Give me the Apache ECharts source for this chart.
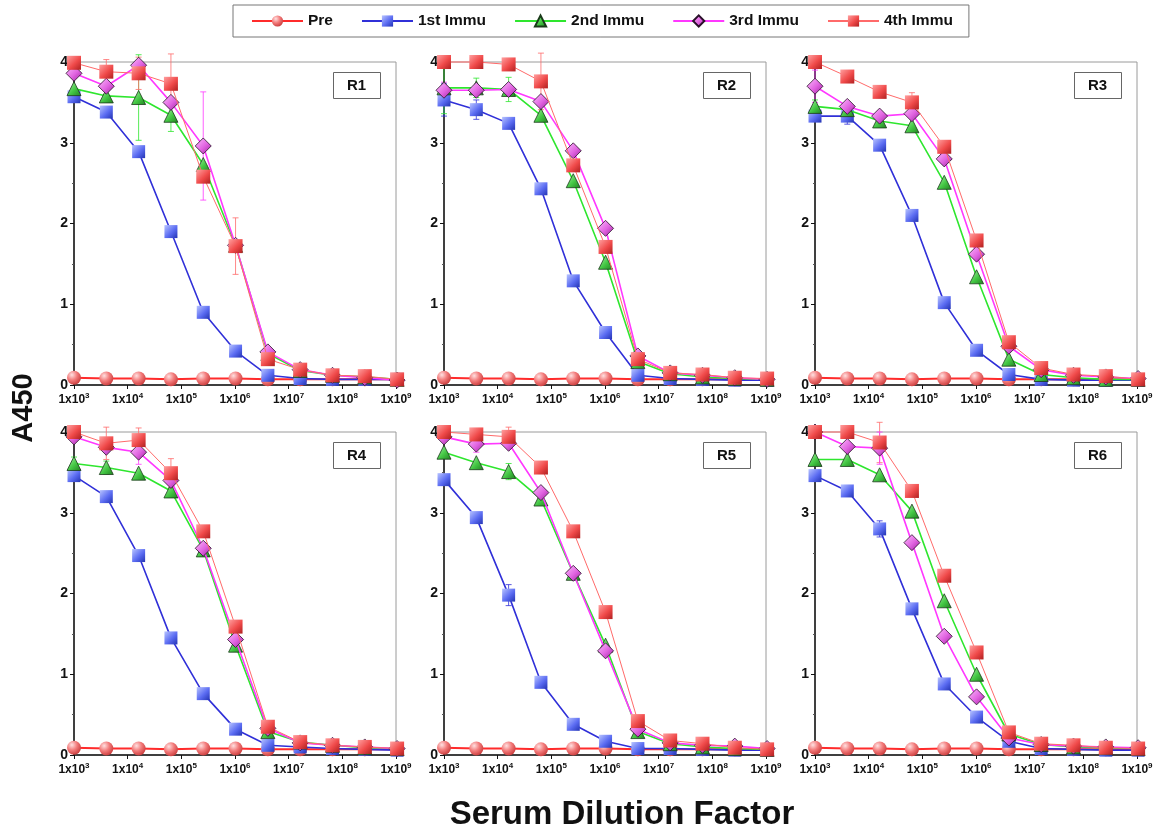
<!DOCTYPE html>
<html>
<head>
<meta charset="utf-8">
<title>A450 vs Serum Dilution Factor</title>
<script src="https://cdn.jsdelivr.net/npm/echarts@6/dist/echarts.min.js"></script>
<style>
  html, body { margin: 0; padding: 0; background: #fff; }
  #main { width: 1165px; height: 835px; }
</style>
</head>
<body>
<div id="main"></div>
<script>
// dilution steps (4-fold, starting at 1:1000)
var dilutions = [1e3, 4e3, 1.6e4, 6.4e4, 2.56e5, 1.024e6, 4.096e6, 1.6384e7, 6.5536e7, 2.62144e8, 1.048576e9];
var seriesNames = ['Pre', '1st Immu', '2nd Immu', '3rd Immu', '4th Immu'];
var panelNames = ['R1', 'R2', 'R3', 'R4', 'R5', 'R6'];
var yTicks = [0, 1, 2, 3, 4];

// R1
var r1Pre    = [0.09, 0.08, 0.08, 0.07, 0.08, 0.08, 0.07, 0.07, 0.07, 0.07, 0.07];
var r1First  = [3.57, 3.38, 2.89, 1.90, 0.90, 0.42, 0.12, 0.08, 0.07, 0.07, 0.07];
var r1Second = [3.67, 3.58, 3.56, 3.34, 2.73, 1.73, 0.39, 0.18, 0.12, 0.10, 0.07];
var r1Third  = [3.86, 3.70, 3.96, 3.50, 2.96, 1.73, 0.41, 0.19, 0.12, 0.09, 0.06];
var r1Fourth = [3.99, 3.88, 3.86, 3.73, 2.58, 1.72, 0.32, 0.19, 0.12, 0.11, 0.07];
// error bars: [series index, point index, sd]
var r1Err = [[4, 1, 0.15], [2, 2, 0.53], [4, 2, 0.2], [4, 3, 0.37], [2, 3, 0.2], [3, 4, 0.67], [4, 5, 0.35], [3, 0, 0.06]];

// R2
var r2Pre    = [0.09, 0.08, 0.08, 0.07, 0.08, 0.08, 0.07, 0.07, 0.07, 0.07, 0.07];
var r2First  = [3.53, 3.41, 3.24, 2.43, 1.29, 0.65, 0.12, 0.08, 0.07, 0.06, 0.06];
var r2Second = [3.68, 3.68, 3.66, 3.34, 2.53, 1.52, 0.29, 0.14, 0.10, 0.08, 0.07];
var r2Third  = [3.65, 3.65, 3.66, 3.51, 2.90, 1.94, 0.36, 0.15, 0.12, 0.09, 0.07];
var r2Fourth = [4.00, 4.00, 3.97, 3.76, 2.72, 1.71, 0.32, 0.15, 0.13, 0.09, 0.08];
var r2Err = [[1, 0, 0.2], [1, 1, 0.12], [2, 0, 0.32], [2, 1, 0.12], [2, 2, 0.15], [4, 3, 0.35], [3, 0, 0.1]];

// R3
var r3Pre    = [0.09, 0.08, 0.08, 0.07, 0.08, 0.08, 0.07, 0.07, 0.07, 0.07, 0.07];
var r3First  = [3.33, 3.33, 2.97, 2.10, 1.02, 0.43, 0.13, 0.07, 0.06, 0.06, 0.06];
var r3Second = [3.45, 3.41, 3.27, 3.21, 2.51, 1.34, 0.32, 0.13, 0.09, 0.07, 0.07];
var r3Third  = [3.70, 3.45, 3.33, 3.36, 2.80, 1.62, 0.48, 0.19, 0.12, 0.10, 0.08];
var r3Fourth = [4.00, 3.82, 3.63, 3.50, 2.95, 1.79, 0.53, 0.21, 0.13, 0.11, 0.07];
var r3Err = [[3, 0, 0.2], [1, 1, 0.1], [4, 3, 0.12], [2, 0, 0.08]];

// R4
var r4Pre    = [0.09, 0.08, 0.08, 0.07, 0.08, 0.08, 0.07, 0.07, 0.07, 0.07, 0.07];
var r4First  = [3.46, 3.20, 2.47, 1.45, 0.76, 0.32, 0.12, 0.10, 0.08, 0.07, 0.06];
var r4Second = [3.61, 3.56, 3.49, 3.27, 2.54, 1.36, 0.29, 0.16, 0.12, 0.09, 0.08];
var r4Third  = [3.94, 3.81, 3.75, 3.40, 2.56, 1.43, 0.33, 0.15, 0.12, 0.10, 0.08];
var r4Fourth = [4.00, 3.86, 3.90, 3.49, 2.77, 1.59, 0.35, 0.16, 0.12, 0.10, 0.08];
var r4Err = [[4, 1, 0.2], [4, 2, 0.15], [4, 3, 0.18], [3, 2, 0.15], [2, 0, 0.08], [2, 1, 0.08]];

// R5
var r5Pre    = [0.09, 0.08, 0.08, 0.07, 0.08, 0.08, 0.07, 0.07, 0.07, 0.07, 0.07];
var r5First  = [3.41, 2.94, 1.98, 0.90, 0.38, 0.17, 0.08, 0.08, 0.07, 0.06, 0.06];
var r5Second = [3.75, 3.62, 3.51, 3.17, 2.25, 1.36, 0.29, 0.14, 0.10, 0.08, 0.07];
var r5Third  = [3.94, 3.85, 3.86, 3.25, 2.25, 1.29, 0.32, 0.15, 0.12, 0.11, 0.08];
var r5Fourth = [4.00, 3.97, 3.94, 3.56, 2.77, 1.77, 0.42, 0.18, 0.14, 0.09, 0.07];
var r5Err = [[1, 2, 0.13], [4, 2, 0.12], [2, 2, 0.1], [3, 1, 0.1]];

// R6
var r6Pre    = [0.09, 0.08, 0.08, 0.07, 0.08, 0.08, 0.07, 0.07, 0.07, 0.07, 0.07];
var r6First  = [3.46, 3.27, 2.80, 1.81, 0.88, 0.47, 0.17, 0.08, 0.07, 0.06, 0.06];
var r6Second = [3.66, 3.66, 3.47, 3.02, 1.91, 1.00, 0.26, 0.13, 0.10, 0.09, 0.08];
var r6Third  = [4.00, 3.82, 3.80, 2.63, 1.47, 0.72, 0.21, 0.13, 0.11, 0.10, 0.09];
var r6Fourth = [4.00, 4.00, 3.87, 3.27, 2.22, 1.27, 0.28, 0.14, 0.12, 0.09, 0.08];
var r6Err = [[4, 2, 0.25], [1, 2, 0.1], [3, 2, 0.2]];

var panels = [
  [r1Pre, r1First, r1Second, r1Third, r1Fourth, r1Err],
  [r2Pre, r2First, r2Second, r2Third, r2Fourth, r2Err],
  [r3Pre, r3First, r3Second, r3Third, r3Fourth, r3Err],
  [r4Pre, r4First, r4Second, r4Third, r4Fourth, r4Err],
  [r5Pre, r5First, r5Second, r5Third, r5Fourth, r5Err],
  [r6Pre, r6First, r6Second, r6Third, r6Fourth, r6Err]
];

var lineColors = ['#ff2b2b', '#3030d8', '#2ee62e', '#ff38ff', '#ff6a6a'];
var lineWidths = [2, 1.6, 1.6, 1.6, 1];
var symbols = ['circle', 'rect', 'triangle', 'diamond', 'rect'];
var symbolSizes = [14, 13, 14, 16, 14];
var fills = [
  ['#ffe0e0', '#f27a7a', '#c83a3a'],
  ['#b8c4ff', '#5b6cf2', '#2434b4'],
  ['#b0f5b0', '#45c845', '#1f7f1f'],
  ['#ffc0ff', '#e063e0', '#9a1c9a'],
  ['#ffa0a0', '#f04a4a', '#b02020']
];
var borders = [null, null, '#1a3a1a', '#2a102a', null];

var font = '"Liberation Sans", Arial, sans-serif';
var gridLefts = [74, 444, 815];
var gridTops = [62, 432];
var gridW = 322, gridH = 323;

function markerFill(i) {
  var f = fills[i];
  if (symbols[i] === 'circle') {
    return new echarts.graphic.RadialGradient(0.35, 0.3, 0.75, [
      { offset: 0, color: f[0] }, { offset: 0.5, color: f[1] }, { offset: 1, color: f[2] }
    ]);
  }
  return new echarts.graphic.LinearGradient(0, 0, 1, 1, [
    { offset: 0, color: f[0] }, { offset: 0.55, color: f[1] }, { offset: 1, color: f[2] }
  ]);
}

function renderErr(params, api) {
  var x = api.value(0), lo = api.value(1), hi = api.value(2);
  var c = lineColors[api.value(3)];
  var p1 = api.coord([x, lo]), p2 = api.coord([x, hi]);
  var w = 3;
  var st = { stroke: c, lineWidth: 1, opacity: 0.8 };
  return {
    type: 'group',
    children: [
      { type: 'line', shape: { x1: p1[0], y1: p1[1], x2: p2[0], y2: p2[1] }, style: st },
      { type: 'line', shape: { x1: p1[0] - w, y1: p1[1], x2: p1[0] + w, y2: p1[1] }, style: st },
      { type: 'line', shape: { x1: p2[0] - w, y1: p2[1], x2: p2[0] + w, y2: p2[1] }, style: st }
    ]
  };
}

var grids = [], xAxes = [], yAxes = [], titles = [], series = [];

panels.forEach(function (p, k) {
  var gl = gridLefts[k % 3], gt = gridTops[Math.floor(k / 3)];
  grids.push({ left: gl, top: gt, width: gridW, height: gridH, show: true, borderColor: '#9a9a9a', borderWidth: 1 });
  xAxes.push({
    type: 'log', logBase: 10, gridIndex: k, min: 1e3, max: 1e9, splitNumber: 6,
    axisLine: { lineStyle: { color: '#111', width: 1.5 } },
    axisTick: { length: 4, lineStyle: { color: '#111' } },
    splitLine: { show: false },
    axisLabel: {
      margin: 7, color: '#111', fontSize: 12, fontWeight: 'bold', fontFamily: font,
      formatter: function (v) { return '1x10{s|' + Math.round(Math.log10(v)) + '}'; },
      rich: { s: { fontSize: 8, fontWeight: 'bold', fontFamily: font, color: '#111', padding: [0, 0, 8, 0] } }
    }
  });
  yAxes.push({
    type: 'value', gridIndex: k, min: yTicks[0], max: yTicks[yTicks.length - 1], interval: 1,
    axisLine: { show: true, lineStyle: { color: '#111', width: 1.5 } },
    axisTick: { show: true, length: 4, lineStyle: { color: '#111' } },
    minorTick: { show: true, splitNumber: 2, length: 2, lineStyle: { color: '#555' } },
    splitLine: { show: false },
    axisLabel: { margin: 6, color: '#111', fontSize: 14, fontWeight: 'bold', fontFamily: font }
  });
  titles.push({
    text: panelNames[k], left: gl + gridW - 63, top: gt + 10,
    borderColor: '#666', borderWidth: 1, padding: [6, 15, 6, 14],
    textStyle: { fontSize: 15, fontWeight: 'bold', fontFamily: font, color: '#111' }
  });

  var errData = p[5].map(function (e) {
    var y = p[e[0]][e[1]];
    return [dilutions[e[1]], y - e[2], y + e[2], e[0]];
  });
  series.push({
    type: 'custom', xAxisIndex: k, yAxisIndex: k, renderItem: renderErr, clip: false, z: 1,
    encode: { x: 0, y: [1, 2] }, data: errData, silent: true
  });

  for (var i = 0; i < 5; i++) {
    series.push({
      name: seriesNames[i], type: 'line', xAxisIndex: k, yAxisIndex: k, clip: false,
      z: 2 + i, symbol: symbols[i], symbolSize: symbolSizes[i], showAllSymbol: true,
      lineStyle: { color: lineColors[i], width: lineWidths[i] },
      itemStyle: { color: markerFill(i), borderColor: borders[i] || 'rgba(0,0,0,0)', borderWidth: borders[i] ? 0.8 : 0 },
      emphasis: { disabled: true },
      data: dilutions.map(function (d, j) { return [d, p[i][j]]; })
    });
  }
});

var chart = echarts.init(document.getElementById('main'), null, { renderer: 'canvas' });
chart.setOption({
  backgroundColor: '#fff',
  animation: false,
  title: titles,
  legend: {
    data: seriesNames, left: 233, top: 5,
    padding: [8, 16, 8, 18], itemWidth: 51, itemHeight: 14, itemGap: 28,
    borderColor: '#777', borderWidth: 1,
    textStyle: { fontSize: 15.5, fontWeight: 'bold', fontFamily: font, color: '#111' }
  },
  grid: grids,
  xAxis: xAxes,
  yAxis: yAxes,
  series: series,
  graphic: [
    { type: 'text', x: 24, y: 408, rotation: Math.PI / 2,
      style: { text: 'A450', font: 'bold 29px ' + font, fill: '#111', align: 'center', verticalAlign: 'middle', textAlign: 'center', textVerticalAlign: 'middle' } },
    { type: 'text', x: 622, y: 815,
      style: { text: 'Serum Dilution Factor', font: 'bold 33px ' + font, fill: '#111', align: 'center', verticalAlign: 'middle', textAlign: 'center', textVerticalAlign: 'middle' } }
  ]
});
</script>
</body>
</html>
